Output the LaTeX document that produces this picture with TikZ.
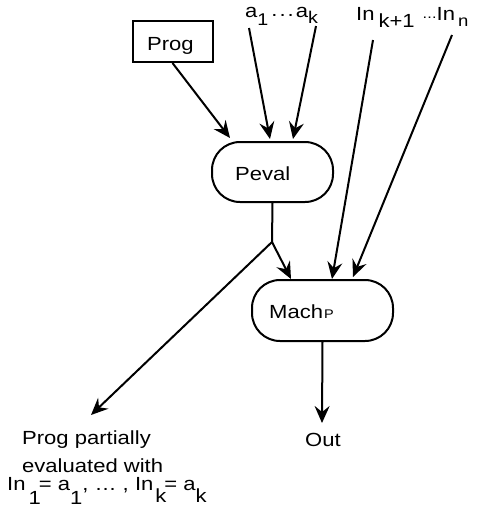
\documentclass[tikz,border=0pt]{standalone}
\usepackage{fontspec}
\setmainfont{Liberation Sans}[FakeStretch=1.16]
\usetikzlibrary{arrows.meta,calc}
% lowered index, full size unless a size is given inside
\newcommand{\lowidx}[2][-8pt]{\raisebox{#1}{#2}}
\newcommand{\lowdots}{\raisebox{1pt}{.\kern2pt.\kern2pt.}}
\begin{document}
\begin{tikzpicture}[x=1pt,y=-1pt,
  txt/.style={font=\fontsize{19}{22}\selectfont, inner sep=0pt, anchor=base west},
  progbox/.style={draw, line width=2pt, minimum width=80pt, minimum height=41pt, inner sep=0pt},
  proc/.style={draw, line width=2pt, rounded corners=28pt, inner sep=0pt},
  flow/.style={line width=2pt, -{Stealth[length=17pt,width=15pt,inset=6pt]}},
  wire/.style={line width=2pt}]
\useasboundingbox (0,0) rectangle (483,507);

% boxes and their captions
\node[progbox] (prog) at (172.5,41.5) {};
\node[txt] (progtxt) at (147,50) {Prog};
\node[proc, minimum width=121pt, minimum height=60pt] (peval) at (272.5,172) {};
\node[txt] (pevaltxt) at (235,180) {Peval};
\node[proc, minimum width=141pt, minimum height=61pt] (mach) at (322.5,310.5) {};
\node[txt] (machtxt) at (269,318) {Mach\kern1pt{\fontsize{12.5}{12.5}\selectfont P}};

% inputs along the top
\node[txt] (atxt) at (245,17) {a\lowidx[-8pt]{\fontsize{17}{17}\selectfont 1}\kern3pt\lowdots\kern2pt a\lowidx[-6pt]{\fontsize{17}{17}\selectfont k}};
\node[txt] (intxt) at (356,20) {In\kern4pt\lowidx[-7pt]{k+1}\kern8pt\raisebox{2pt}{\fontsize{14}{14}\selectfont .\kern0.2pt.\kern0.2pt.}In\kern3pt\lowidx[-6pt]{\fontsize{16}{16}\selectfont n}};

% outputs
\node[txt] (outtxt) at (305,446) {Out};
\node[txt] (res1) at (22,444) {Prog partially};
\node[txt] (res2) at (22,472) {evaluated with};
\node[txt] (res3) at (7,490) {In\kern3pt\lowidx[-14pt]{1}\kern-2pt= a\lowidx[-14pt]{1}, … , In\kern2pt\lowidx[-12pt]{k}\kern-2pt= a\lowidx[-12pt]{k}};

% connector end points
\coordinate (a1start) at (249,28);
\coordinate (akstart) at (316,26);
\coordinate (inkstart) at (373,40);
\coordinate (innstart) at (452,35);
\coordinate (pin0) at (230,138);
\coordinate (pin1) at (270,139);
\coordinate (pin2) at (293,139);
\coordinate (j) at (272,242);
\coordinate (min0) at (291,279);
\coordinate (min1) at (332,279);
\coordinate (min2) at (353,277);
\coordinate (partial) at (91,415);
\coordinate (outend) at (322,423);

% connectors
\draw[flow] (prog.south) -- (pin0);
\draw[flow] (a1start) -- (pin1);
\draw[flow] (akstart) -- (pin2);
\draw[flow] (inkstart) -- (min1);
\draw[flow] (innstart) -- (min2);
\draw[wire] (peval.south) -- (j);
\draw[flow] (j) -- (min0);
\draw[flow] (j) -- (partial);
\draw[flow] (mach.south) -- (outend);
\end{tikzpicture}
\end{document}
